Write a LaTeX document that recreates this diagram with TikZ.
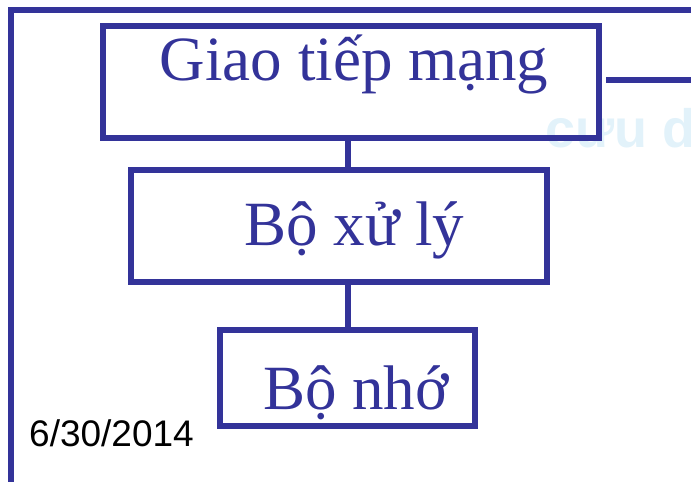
\documentclass[tikz,border=0pt]{standalone}
\usepackage{fontspec}
\setmainfont{Liberation Serif}
\newfontfamily\datefont{Liberation Sans}
\usetikzlibrary{positioning}
\usepackage{xcolor}
\definecolor{slideblue}{RGB}{51,51,153}
\definecolor{markblue}{RGB}{226,242,250}
\tikzset{%
	block/.style={
		draw=slideblue,
		line width=6pt,
		rectangle,
		inner sep=0pt
	},
	blocktext/.style={
		anchor=base,
		inner sep=0pt,
		text=slideblue,
		font=\fontsize{63}{70}\selectfont
	},
}

\begin{document}
\begin{tikzpicture}[x=1pt,y=-1pt]
			\useasboundingbox (0,0) rectangle (691,482);
			
			% Faint watermark behind
			\begin{scope}
				\clip (0,0) rectangle (691,482);
				\node[anchor=base west, inner sep=0pt, text=markblue,
				font=\datefont\bfseries\fontsize{54}{60}\selectfont] (mark) at (545,147) {cưu dư};
			\end{scope}
			
			% Slide frame
			\draw[slideblue, line width=6pt] (11,482) -- (11,10) -- (691,10);
			
			% Blocks
			\node[block, minimum width=496pt, minimum height=112pt] (net) at (351,82) {};
			\node[block, minimum width=416pt, minimum height=112pt] (cpu) at (339,226) {};
			\node[block, minimum width=255pt, minimum height=96pt] (mem) at (347.5,378) {};
			
			% Block texts
			\node[blocktext] (nettext) at (354,80) {Giao tiếp mạng};
			\node[blocktext] (cputext) at (354.5,245) {Bộ xử lý};
			\node[blocktext] (memtext) at (356,409) {Bộ nhớ};
			
			% Links between blocks
			\draw[slideblue, line width=6pt] (net.south -| mem.north) -- (cpu.north -| mem.north);
			\draw[slideblue, line width=6pt] (cpu.south -| mem.north) -- (mem.north);
			
			% Line out to the right
			\coordinate (rightend) at (691,80);
			\draw[slideblue, line width=6pt] ([xshift=4pt]net.east |- rightend) -- (rightend);
			
			% Date
			\node[anchor=base west, inner sep=0pt, font=\datefont\fontsize{37}{42}\selectfont] (date) at (29,446) {6/30/2014};
		\end{tikzpicture}
\end{document}
